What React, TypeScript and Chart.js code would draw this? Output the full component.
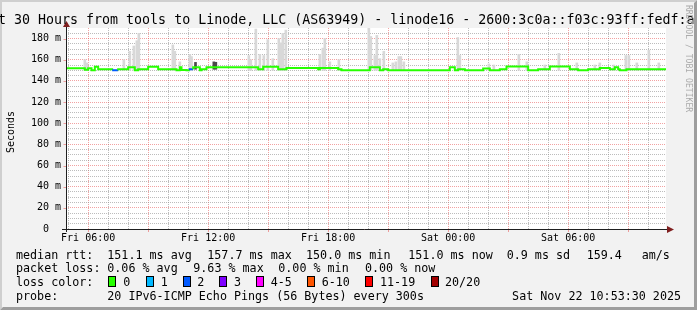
import React, { useEffect, useRef } from "react";
import { Chart, registerables } from "chart.js";

Chart.register(...registerables);

// ---- time axis: minutes since Fri 00:00 ----
const START_MIN = 293.5; // Fri 04:53:30
const END_MIN = 2093.5; // Sat 10:53:30

const xLabelTimes = [360, 720, 1080, 1440, 1800];
const xLabels = ["Fri 06:00", "Fri 12:00", "Fri 18:00", "Sat 00:00", "Sat 06:00"];

const yLabelValues = [0, 20, 40, 60, 80, 100, 120, 140, 160, 180];
const yLabels = ["0", "20 m", "40 m", "60 m", "80 m", "100 m", "120 m", "140 m", "160 m", "180 m"];

// ---- median rtt (ms), stepped, with lost-ping count per step ----
const medianTimes = [290, 350, 360, 370, 380, 390, 435, 450, 480, 500, 510, 540, 570, 625, 635, 640, 655, 665, 675, 695, 700, 715, 870, 885, 930, 955, 1050, 1055, 1110, 1120, 1205, 1235, 1245, 1260, 1445, 1460, 1470, 1490, 1545, 1565, 1595, 1615, 1680, 1710, 1745, 1805, 1830, 1860, 1895, 1925, 1940, 1950, 1955, 1975, 2015, 2095];
const medianValues = [151.0, 152.0, 150.5, 152.0, 150.0, 153.3, 151.0, 150.0, 151.0, 153.0, 150.0, 151.0, 153.3, 151.0, 150.0, 153.0, 150.2, 150.0, 151.0, 153.0, 150.0, 151.0, 153.0, 151.0, 153.3, 151.0, 152.3, 151.0, 152.3, 151.0, 150.0, 153.0, 150.0, 151.0, 150.0, 153.0, 150.0, 151.0, 150.0, 151.6, 150.0, 151.0, 153.5, 150.0, 151.0, 153.5, 151.0, 150.0, 151.0, 152.2, 151.0, 153.0, 151.0, 150.0, 151.0, 151.0];
const medianLoss = [0, 0, 0, 0, 0, 0, 2, 0, 0, 0, 0, 0, 0, 0, 0, 0, 0, 2, 0, 0, 0, 0, 0, 0, 0, 0, 0, 0, 0, 0, 0, 0, 0, 0, 0, 0, 0, 0, 0, 0, 0, 0, 0, 0, 0, 0, 0, 0, 0, 0, 0, 0, 0, 0, 0, 0];

// ---- smoke (ms): spread of the pings above the median ----
const smokeBase = 150;
const smokeTimes = [350, 356, 467, 485, 497, 506, 512, 614, 620, 635, 665, 670, 842, 848, 863, 875, 887, 899, 914, 932, 938, 944, 953, 1055, 1064, 1070, 1085, 1112, 1202, 1208, 1220, 1226, 1235, 1247, 1274, 1283, 1292, 1298, 1307, 1469, 1475, 1562, 1577, 1652, 1676, 1730, 1772, 1826, 1880, 1895, 1937, 1973, 1982, 2006, 2042, 2072];
const smokeTops = [160, 157, 160, 168, 173, 178, 185, 174, 168, 158, 165, 163, 164, 160, 189, 165, 164, 179, 161, 180, 176, 185, 188, 165, 171, 180, 158, 160, 190, 182, 164, 183, 161, 168, 157, 158, 163, 163, 158, 181, 164, 156, 155, 165, 158, 155, 166, 157, 155, 157, 155, 164, 164, 157, 169, 157];
const darkSmokeBase = 151;
const darkSmokeTimes = [682, 737, 743];
const darkSmokeTops = [157.5, 158.0, 157.6];

// ---- legend texts ----
const titleText = "Last 30 Hours from tools to Linode, LLC (AS63949) - linode16 - 2600:3c0a::f03c:93ff:fedf:a";
const yAxisTitle = "Seconds";
const watermark = "RRDTOOL / TOBI OETIKER";
const medianStats = ["median rtt:", "151.1 ms avg", "157.7 ms max", "150.0 ms min", "151.0 ms now", "0.9 ms sd", "159.4", "am/s"];
const lossStats = ["packet loss:", "0.06 % avg", "9.63 % max", "0.00 % min", "0.00 % now"];
const lossColorTitle = "loss color:";
const lossLabels = ["0", "1", "2", "3", "4-5", "6-10", "11-19", "20/20"];
const lossColors = ["#26ff00", "#00b8ff", "#0059ff", "#7e00ff", "#ff00ff", "#ff5500", "#ff0000", "#a10000"];
const probeRow = ["probe:", "20 IPv6-ICMP Echo Pings (56 Bytes) every 300s", "Sat Nov 22 10:53:30 2025"];

const MONO = '"DejaVu Sans Mono", monospace';
const MINOR = "rgba(143,143,143,0.6)";
const MAJOR = "rgba(230,70,70,0.5)";

const rrdPlugin = {
  id: "rrd",
  beforeDraw(chart: any) {
    const { ctx, chartArea: a, width: w, height: h } = chart;
    ctx.save();
    ctx.fillStyle = "#f2f2f2";
    ctx.fillRect(0, 0, w, h);
    ctx.fillStyle = "#cfcfcf";
    ctx.beginPath();
    ctx.moveTo(0, 0); ctx.lineTo(w, 0); ctx.lineTo(w - 2, 2); ctx.lineTo(2, 2); ctx.lineTo(2, h - 2); ctx.lineTo(0, h);
    ctx.closePath(); ctx.fill();
    ctx.fillStyle = "#9e9e9e";
    ctx.beginPath();
    ctx.moveTo(w, 0); ctx.lineTo(w, h); ctx.lineTo(0, h); ctx.lineTo(3, h - 3); ctx.lineTo(w - 3, h - 3); ctx.lineTo(w - 3, 3);
    ctx.closePath(); ctx.fill();
    ctx.fillStyle = "#ffffff";
    ctx.fillRect(a.left, a.top, a.right - a.left, a.bottom - a.top);
    ctx.restore();
  },
  afterDatasetsDraw(chart: any) {
    const { ctx, chartArea: a, scales } = chart;
    const xs = scales.x, ys = scales.y;
    const x0 = Math.round(a.left) + 0.5;
    const yb = Math.round(a.bottom) + 0.5;
    ctx.save();
    ctx.lineWidth = 1;
    // major tick marks
    ctx.strokeStyle = MAJOR;
    for (let v = 360; v < END_MIN; v += 180) {
      const px = Math.round(xs.getPixelForValue(v)) + 0.5;
      ctx.beginPath(); ctx.moveTo(px, yb); ctx.lineTo(px, yb + 2.5); ctx.stroke();
    }
    for (const v of yLabelValues) {
      if (v === 0) continue;
      const py = Math.round(ys.getPixelForValue(v)) + 0.5;
      ctx.beginPath(); ctx.moveTo(x0 - 3, py); ctx.lineTo(x0, py); ctx.stroke();
    }
    // axes
    ctx.strokeStyle = "#1f1f1f";
    ctx.beginPath(); ctx.moveTo(a.left - 4, yb); ctx.lineTo(a.right + 1, yb); ctx.stroke();
    ctx.beginPath(); ctx.moveTo(x0, a.bottom + 3); ctx.lineTo(x0, a.top - 1); ctx.stroke();
    // arrows
    ctx.fillStyle = "#801f1f";
    ctx.beginPath(); ctx.moveTo(a.right + 1, yb - 3.5); ctx.lineTo(a.right + 8, yb); ctx.lineTo(a.right + 1, yb + 3.5); ctx.closePath(); ctx.fill();
    ctx.beginPath(); ctx.moveTo(x0 - 3.5, a.top - 1); ctx.lineTo(x0, a.top - 7); ctx.lineTo(x0 + 3.5, a.top - 1); ctx.closePath(); ctx.fill();
    ctx.restore();
  },
  afterDraw(chart: any) {
    const { ctx } = chart;
    ctx.save();
    ctx.fillStyle = "#000";
    ctx.textBaseline = "alphabetic";
    ctx.textAlign = "left";
    // title
    ctx.font = `13.3px ${MONO}`;
    ctx.fillText(titleText, -26, 24);
    // y axis title
    ctx.save();
    ctx.font = `10px ${MONO}`;
    ctx.translate(14, 132);
    ctx.rotate(-Math.PI / 2);
    ctx.textAlign = "center";
    ctx.fillText(yAxisTitle, 0, 0);
    ctx.restore();
    // watermark
    ctx.save();
    ctx.font = `8.1px ${MONO}`;
    ctx.fillStyle = "#ababab";
    ctx.translate(685.5, 5);
    ctx.rotate(Math.PI / 2);
    ctx.fillText(watermark, 0, 0);
    ctx.restore();
    // legend
    ctx.font = `11.7px ${MONO}`;
    const r1 = [16, 107.3, 207.3, 306, 408.3, 506.7, 586.7, 641.7];
    medianStats.forEach((t, i) => ctx.fillText(t, r1[i], 258.5));
    const r2 = [16, 107.3, 193.3, 278.3, 365];
    lossStats.forEach((t, i) => ctx.fillText(t, r2[i], 272.3));
    ctx.fillText(lossColorTitle, 16, 286.2);
    const boxX = [108.3, 145.7, 182.7, 219.3, 256, 307.3, 365, 430.7];
    const labX = [123.3, 160.7, 197.3, 234, 270.7, 321.7, 380, 445];
    lossLabels.forEach((t, i) => {
      const bx = Math.round(boxX[i]);
      ctx.fillStyle = lossColors[i];
      ctx.fillRect(bx, 276, 8, 11);
      ctx.strokeStyle = "#000";
      ctx.lineWidth = 1;
      ctx.strokeRect(bx + 0.5, 276.5, 7, 10);
      ctx.fillStyle = "#000";
      ctx.fillText(t, labX[i], 286.2);
    });
    ctx.fillText(probeRow[0], 16, 300);
    ctx.fillText(probeRow[1], 107.3, 300);
    ctx.textAlign = "right";
    ctx.fillText(probeRow[2], 681, 300);
    ctx.restore();
  },
};

export default function App() {
  const ref = useRef<HTMLCanvasElement>(null);
  useEffect(() => {
    document.body.style.margin = "0";
    const canvas = ref.current!;
    const smokeData = [
      ...smokeTimes.map((t, i) => ({ x: t, y: [smokeBase, smokeTops[i]] })),
      ...darkSmokeTimes.map((t, i) => ({ x: t, y: [darkSmokeBase, darkSmokeTops[i]] })),
    ];
    const chart = new Chart(canvas, {
      type: "bar",
      data: {
        datasets: [
          {
            type: "line",
            label: "median rtt",
            data: medianTimes.map((t, i) => ({ x: t, y: medianValues[i] })),
            stepped: "after",
            borderWidth: 2,
            pointRadius: 0,
            borderColor: lossColors[0],
            borderCapStyle: "butt",
            segment: { borderColor: (c: any) => lossColors[medianLoss[c.p0DataIndex]] },
            order: 0,
          } as any,
          {
            type: "bar",
            label: "smoke",
            data: smokeData as any,
            backgroundColor: (c: any) => (c.dataIndex >= smokeTimes.length ? "#4a4a4a" : "#d8d8d8"),
            barThickness: 2,
            borderWidth: 0,
            order: 1,
          } as any,
        ],
      },
      options: {
        responsive: false,
        animation: false,
        devicePixelRatio: 1,
        events: [],
        layout: { padding: { top: 28, right: 31, bottom: 0, left: 0 } },
        plugins: { legend: { display: false }, tooltip: { enabled: false }, title: { display: false } },
        scales: {
          x: {
            type: "linear",
            min: START_MIN,
            max: END_MIN,
            offset: false,
            afterFit: (s: any) => { s.height = 81; },
            afterBuildTicks: (s: any) => {
              const t = [];
              for (let v = 300; v < END_MIN; v += 60) t.push({ value: v });
              s.ticks = t;
            },
            grid: {
              offset: false,
              drawTicks: false,
              lineWidth: 1,
              color: (c: any) => (c.tick && c.tick.value % 180 === 0 ? MAJOR : MINOR),
              borderDash: [1, 1],
            } as any,
            border: { display: false, dash: [1, 1] },
            ticks: {
              autoSkip: false,
              maxRotation: 0,
              minRotation: 0,
              padding: 3,
              color: "#000",
              font: { family: MONO, size: 10 },
              callback: (v: any) => {
                const i = xLabelTimes.indexOf(Number(v));
                return i >= 0 ? xLabels[i] : "";
              },
            },
          },
          y: {
            type: "linear",
            min: 0,
            max: 190,
            afterFit: (s: any) => { s.width = 66; },
            afterBuildTicks: (s: any) => {
              const t = [];
              for (let v = 0; v < 190; v += 5) t.push({ value: v });
              s.ticks = t;
            },
            grid: {
              drawTicks: false,
              lineWidth: 1,
              color: (c: any) => (c.tick && c.tick.value % 20 === 0 ? MAJOR : MINOR),
              borderDash: [1, 1],
            } as any,
            border: { display: false, dash: [1, 1] },
            ticks: {
              autoSkip: false,
              padding: 5,
              color: "#000",
              font: { family: MONO, size: 10 },
              callback: (v: any) => {
                const i = yLabelValues.indexOf(Number(v));
                if (i < 0) return "";
                return yLabels[i].length === 1 ? yLabels[i] + "  " : yLabels[i];
              },
            },
          },
        },
      },
      plugins: [rrdPlugin],
    });
    return () => chart.destroy();
  }, []);
  return (
    <canvas
      ref={ref}
      width={697}
      height={310}
      style={{ display: "block", position: "absolute", left: 0, top: 0, width: 697, height: 310 }}
    />
  );
}
